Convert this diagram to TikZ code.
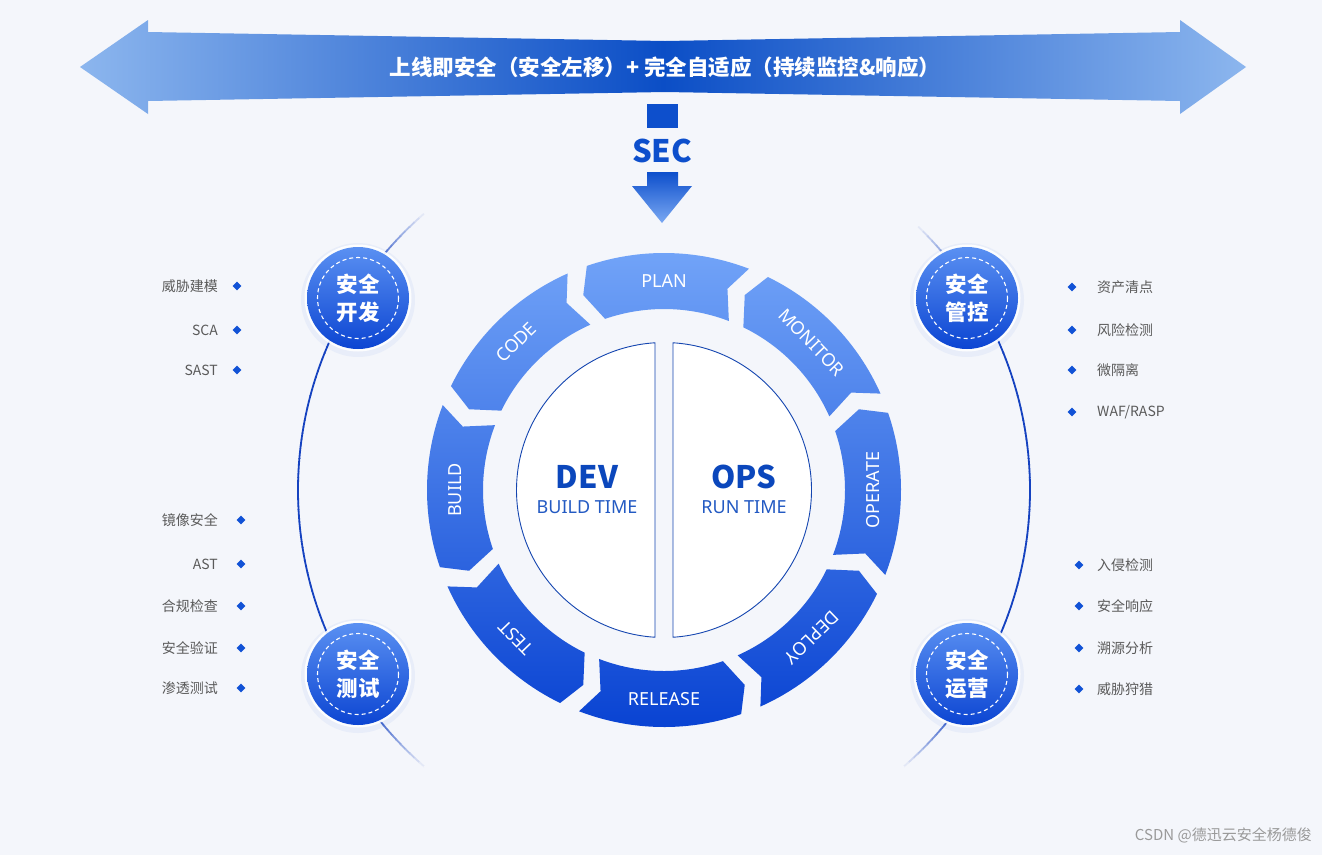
\documentclass[tikz,border=0pt]{standalone}
\usepackage{fontspec}
\setmainfont{Noto Sans}
\newfontfamily\cjk{Noto Sans CJK SC}
\usetikzlibrary{shapes.geometric}
\definecolor{bg}{HTML}{F4F6FB}
\definecolor{bannerlight}{HTML}{8CB6EE}
\definecolor{bannerdark}{HTML}{0B4EC6}
\definecolor{secblue}{HTML}{0D4FCC}
\definecolor{arrowlight}{HTML}{7AA8F2}
\definecolor{ringtop}{HTML}{72A4F8}
\definecolor{ringbot}{HTML}{0842D2}
\definecolor{halfborder}{HTML}{1546B0}
\definecolor{devblue}{HTML}{0B47BC}
\definecolor{badgetop}{HTML}{5A90F2}
\definecolor{badgebot}{HTML}{0C45D2}
\definecolor{arcblue}{HTML}{1542C0}
\definecolor{listgray}{HTML}{5A5A5A}
\definecolor{bulletblue}{HTML}{1152D6}
\definecolor{wmgray}{HTML}{9A9A9A}
\tikzset{
  seglabel/.style={text=white, font=\fontsize{18}{18}\selectfont, inner sep=0pt},
  badge/.style={circle, minimum size=102pt, inner sep=0pt, top color=badgetop, bottom color=badgebot, text=white, align=center, font=\cjk\bfseries\fontsize{21.5}{28}\selectfont},
  badgedash/.style={draw=white, line width=1.1pt, dash pattern=on 4pt off 3pt},
  listtext/.style={text=listgray, font=\cjk\fontsize{14}{16}\selectfont, inner sep=0pt},
  bullet/.style={diamond, fill=bulletblue, minimum size=9pt, inner sep=0pt},
  bigword/.style={text=devblue, font=\cjk\bfseries\fontsize{31}{31}\selectfont, inner sep=0pt},
  smallword/.style={text=devblue!90!white, font=\fontsize{18}{18}\selectfont, inner sep=0pt},
}
\begin{document}
\begin{tikzpicture}[x=1pt,y=-1pt]
\path[fill=bg] (0,0) rectangle (1322,855);
\useasboundingbox (0,0) rectangle (1322,855);

% banner double arrow
\path[left color=bannerlight, right color=bannerlight, middle color=bannerdark]
  (80,67) -- (148,20) -- (148,32) -- (665,41) -- (1180,32) -- (1180,20) -- (1246,67)
  -- (1180,114) -- (1180,101) -- (665,92) -- (148,101) -- (148,114) -- cycle;
\node[text=white, font=\cjk\bfseries\fontsize{21.5}{21.5}\selectfont, inner sep=0pt] (title) at (665,67)
  {上线即安全（安全左移）+ 完全自适应（持续监控\&响应）};

% SEC arrow
\node[fill=secblue, minimum width=31pt, minimum height=24pt, inner sep=0pt] (secbar) at (662.5,116) {};
\node[text=secblue, font=\cjk\bfseries\fontsize{31}{31}\selectfont, inner sep=0pt] (sec) at (662,151) {SEC};
\path[top color=secblue, bottom color=arrowlight]
  (647,172) -- (678,172) -- (678,186) -- (692,186) -- (662,223) -- (632,186) -- (647,186) -- cycle;

\begin{scope}[shift={(664,490)}]
  % outer decorative arcs
  \foreach \i in {0,...,99} {
    \pgfmathsetmacro\sa{230-\i}
    \pgfmathsetmacro\f{100*min(1,min(\i,99-\i)/13)}
    \draw[color=arcblue!\f!bg, line width=1.8pt] (\sa:366) arc[start angle=\sa, end angle=\sa-1.1, radius=366];
  }
  \foreach \i in {0,...,96} {
    \pgfmathsetmacro\sa{-47+\i}
    \pgfmathsetmacro\f{100*min(1,min(\i,96-\i)/13)}
    \draw[color=arcblue!\f!bg, line width=1.8pt] (\sa:366) arc[start angle=\sa, end angle=\sa+1.1, radius=366];
  }

  % ring segments
  \path[top color=ringtop, bottom color=ringbot]
    \foreach \c in {1,46,91,136,181,226,271,316} {
      ({\c-110}:237) arc[start angle={\c-110}, end angle={\c-70}, radius=237]
      -- ({\c-73.5}:211) -- ({\c-70}:181)
      arc[start angle={\c-70}, end angle={\c-110}, radius=181]
      -- ({\c-113.5}:211) -- cycle
    };
  \foreach \th/\txt/\rot/\nm in {0/PLAN/0/plan, 45/MONITOR/-46/monitor, 90/OPERATE/90/operate, 135/DEPLOY/-136/deploy, 180/RELEASE/0/release, 225/TEST/134/test, 270/BUILD/90/build, 315/CODE/44/code}
    \node[seglabel, rotate=\rot] (\nm) at ({\th-90}:209) {\txt};

  % centre halves
  \path[fill=white, draw=halfborder, line width=0.9pt]
    (93.5:147.5) arc[start angle=93.5, end angle=266.5, radius=147.5] -- cycle;
  \path[fill=white, draw=halfborder, line width=0.9pt]
    (-86.5:147.5) arc[start angle=-86.5, end angle=86.5, radius=147.5] -- cycle;
  \node[bigword] (dev) at (-77,-13) {DEV};
  \node[smallword] (devt) at (-77,17) {BUILD TIME};
  \node[bigword] (ops) at (80,-13) {OPS};
  \node[smallword] (opst) at (80,17) {RUN TIME};
\end{scope}

% badges
\foreach \x/\y/\nm/\la/\lb in {358/298/kf/安全/开发, 358/674/cs/安全/测试, 967/298/gk/安全/管控, 967/674/yy/安全/运营} {
  \fill[bulletblue, opacity=0.05] (\x,\y+2) circle[radius=57];
  \fill[white, opacity=0.9] (\x,\y) circle[radius=53.5];
  \node[badge] (\nm) at (\x,\y) {\la\\\lb};
  \draw[badgedash] (\nm.center) circle[radius=40.5];
}

% left lists
\foreach \y/\t/\bx/\nm in {286/威胁建模/237/l1, 330/SCA/237/l2, 370/SAST/237/l3, 520/镜像安全/241/l4, 564/AST/241/l5, 606/合规检查/241/l6, 648/安全验证/241/l7, 688/渗透测试/241/l8} {
  \node[listtext, anchor=east] (\nm) at (218,\y) {\t};
  \node[bullet] (\nm b) at (\bx,\y) {};
}
% right lists
\foreach \y/\t/\bx/\nm in {287/资产清点/1072/r1, 330/风险检测/1072/r2, 370/微隔离/1072/r3, 412/{WAF/RASP}/1072/r4, 565/入侵检测/1079/r5, 606/安全响应/1079/r6, 648/溯源分析/1079/r7, 689/威胁狩猎/1079/r8} {
  \node[listtext, anchor=west] (\nm) at (1097,\y) {\t};
  \node[bullet] (\nm b) at (\bx,\y) {};
}

% watermark
\node[text=wmgray, font=\cjk\fontsize{15}{15}\selectfont, anchor=east, inner sep=0pt] (wm) at (1312,835) {CSDN @德迅云安全杨德俊};
\end{tikzpicture}
\end{document}
